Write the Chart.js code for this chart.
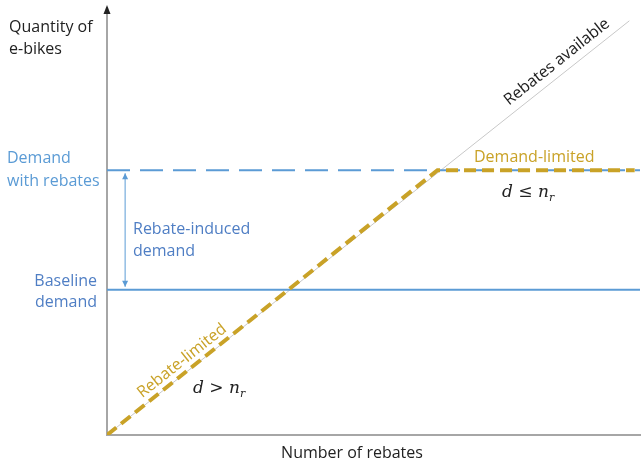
<!DOCTYPE html>
<html>
<head>
<meta charset="utf-8">
<script src="https://cdn.jsdelivr.net/npm/chart.js@4.4.1/dist/chart.umd.min.js"></script>
<style>
  body { margin: 0; background: #fff; }
  canvas { display: block; }
</style>
</head>
<body>
<canvas id="chart" width="642" height="464"></canvas>
<script>
// schematic values (arbitrary units, 0..100 on both axes)
const rebatesX = [0, 98];
const rebatesY = [0, 97];
const demandWithRebates = 62;
const baselineDemand = 34;
const limitedX = [0, 62, 99];
const limitedY = [0, 62, 62];
const lineX = [0, 100];
const arrowAt = 3.4;

const gold = "#c9a227";
const blue = "#5b9bd5";
const blueText = "#4f7ec4";
const font = "'Open Sans', sans-serif";

const pts = (xs, ys) => xs.map((x, i) => ({ x: x, y: ys[i] }));

const labels = {
  id: "labels",
  afterDatasetsDraw(chart) {
    const ctx = chart.ctx;
    const xs = chart.scales.x;
    const ys = chart.scales.y;
    const area = chart.chartArea;
    ctx.save();

    // y axis arrow head
    ctx.fillStyle = "#222";
    ctx.beginPath();
    ctx.moveTo(area.left, area.top - 3);
    ctx.lineTo(area.left - 3.5, area.top + 6);
    ctx.lineTo(area.left + 3.5, area.top + 6);
    ctx.closePath();
    ctx.fill();

    // rebate-induced demand arrow
    const ax = xs.getPixelForValue(arrowAt);
    const a1 = ys.getPixelForValue(demandWithRebates) + 3;
    const a2 = ys.getPixelForValue(baselineDemand) - 3;
    ctx.strokeStyle = blue;
    ctx.fillStyle = blue;
    ctx.lineWidth = 1;
    ctx.beginPath();
    ctx.moveTo(ax, a1);
    ctx.lineTo(ax, a2);
    ctx.stroke();
    [[a1, 1], [a2, -1]].forEach(([y, d]) => {
      ctx.beginPath();
      ctx.moveTo(ax, y);
      ctx.lineTo(ax - 3, y + d * 6);
      ctx.lineTo(ax + 3, y + d * 6);
      ctx.closePath();
      ctx.fill();
    });

    ctx.textBaseline = "middle";
    ctx.font = "16px " + font;
    ctx.fillStyle = "#222";
    ctx.textAlign = "left";
    ctx.fillText("Quantity of", 9, 27);
    ctx.fillText("e-bikes", 9, 49);
    ctx.textAlign = "center";
    ctx.fillText("Number of rebates", 352, 453);

    ctx.fillStyle = blue;
    ctx.textAlign = "left";
    ctx.fillText("Demand", 7, 158);
    ctx.fillText("with rebates", 7, 181);
    ctx.fillStyle = blueText;
    ctx.fillText("Rebate-induced", 133, 229);
    ctx.fillText("demand", 133, 251);
    ctx.textAlign = "right";
    ctx.fillText("Baseline", 97, 281);
    ctx.fillText("demand", 97, 302);

    ctx.fillStyle = gold;
    ctx.textAlign = "left";
    ctx.fillText("Demand-limited", 474, 157);

    // rotated labels along the diagonal
    const ang = Math.atan2(
      ys.getPixelForValue(rebatesY[1]) - ys.getPixelForValue(rebatesY[0]),
      xs.getPixelForValue(rebatesX[1]) - xs.getPixelForValue(rebatesX[0])
    );
    const rot = (text, x, y, color) => {
      ctx.save();
      ctx.translate(x, y);
      ctx.rotate(ang);
      ctx.fillStyle = color;
      ctx.textAlign = "center";
      ctx.fillText(text, 0, 0);
      ctx.restore();
    };
    rot("Rebates available", 557, 62, "#222");
    rot("Rebate-limited", 182, 361, gold);

    // math labels
    const math = (rel, x, y) => {
      ctx.fillStyle = "#222";
      ctx.textAlign = "left";
      ctx.font = "italic 17px 'DejaVu Serif', serif";
      ctx.fillText("d", x, y);
      let w = ctx.measureText("d").width;
      ctx.font = "17px 'DejaVu Serif', serif";
      ctx.fillText(" " + rel + " ", x + w, y);
      w += ctx.measureText(" " + rel + " ").width;
      ctx.font = "italic 17px 'DejaVu Serif', serif";
      ctx.fillText("n", x + w, y);
      w += ctx.measureText("n").width;
      ctx.font = "italic 11px 'DejaVu Serif', serif";
      ctx.fillText("r", x + w, y + 5);
    };
    math("≤", 502, 193);
    math(">", 193, 389);

    ctx.restore();
  }
};

new Chart(document.getElementById("chart"), {
  type: "scatter",
  data: {
    datasets: [
      {
        data: pts(limitedX, limitedY),
        showLine: true,
        borderColor: gold,
        borderWidth: 4,
        borderDash: [12, 6],
        pointRadius: 0
      },
      {
        data: pts(lineX, [demandWithRebates, demandWithRebates]),
        showLine: true,
        borderColor: blue,
        borderWidth: 2,
        borderDash: [23, 10],
        pointRadius: 0
      },
      {
        data: pts(lineX, [baselineDemand, baselineDemand]),
        showLine: true,
        borderColor: blue,
        borderWidth: 2,
        pointRadius: 0
      },
      {
        data: pts(rebatesX, rebatesY),
        showLine: true,
        borderColor: "#c8c8c8",
        borderWidth: 1,
        pointRadius: 0
      }
    ]
  },
  options: {
    responsive: false,
    animation: false,
    devicePixelRatio: 1,
    layout: { padding: { left: 99, top: 8, right: 2, bottom: 21 } },
    plugins: { legend: { display: false }, tooltip: { enabled: false } },
    scales: {
      x: {
        min: 0, max: 100,
        grid: { display: false },
        ticks: { display: false },
        border: { color: "#a6a6a6", width: 2 }
      },
      y: {
        min: 0, max: 100,
        grid: { display: false },
        ticks: { display: false },
        border: { color: "#a6a6a6", width: 2 }
      }
    }
  },
  plugins: [labels]
});
</script>
</body>
</html>
